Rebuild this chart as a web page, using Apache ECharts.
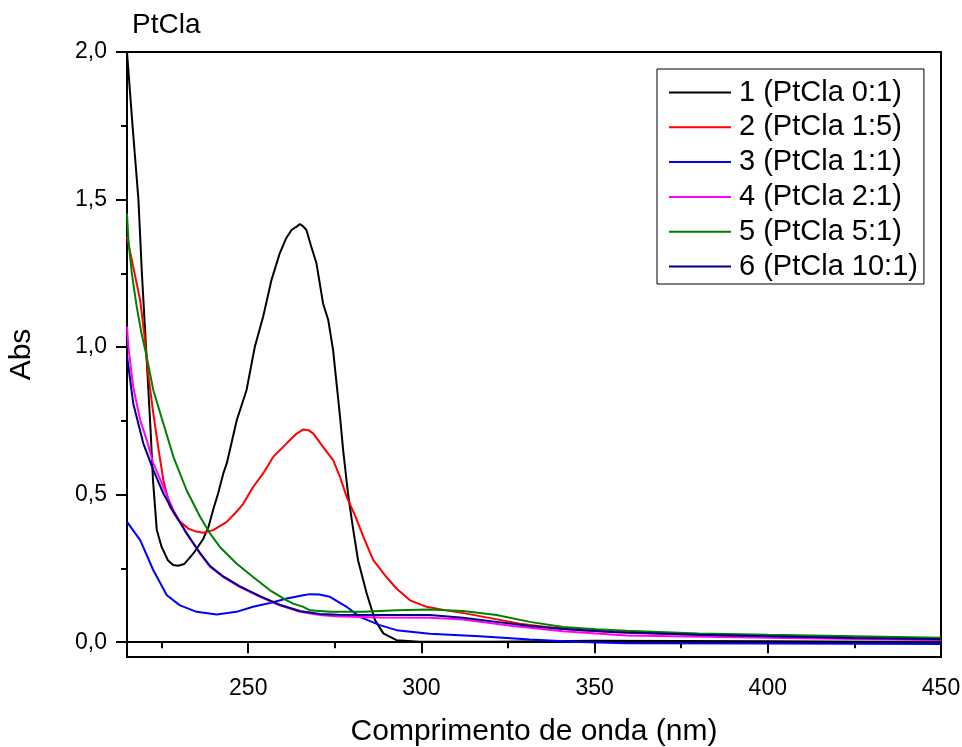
<!DOCTYPE html>
<html><head><meta charset="utf-8">
<script src="https://cdn.jsdelivr.net/npm/echarts@6/dist/echarts.min.js"></script>
<style>html,body{margin:0;padding:0;background:#fff}#c{width:962px;height:747px}</style>
</head><body><div id="c"></div>
<script>
// Wavelength (nm) and absorbance arrays per series
const wl1=[215,216.6,218.3,219.3,220.3,221.8,222.5,223.6,225.0,226.8,228.3,229.8,231.5,234.1,237.0,238.5,239.9,241.3,242.8,243.8,246.7,249.5,251.9,254.3,256.7,259.1,261.0,262.5,263.5,264.2,264.9,265.8,266.8,268.2,269.7,271.6,273.1,274.5,275.5,276.5,277.4,278.8,280.2,281.7,284.2,286.6,289.0,292.8,299.5,320,350,400,450];
const abs1=[2.0,1.75,1.5,1.25,1.04,0.72,0.55,0.38,0.323,0.278,0.262,0.259,0.265,0.30,0.35,0.39,0.45,0.504,0.572,0.606,0.753,0.854,1.001,1.103,1.227,1.318,1.37,1.397,1.405,1.41,1.417,1.41,1.397,1.34,1.284,1.148,1.092,0.99,0.877,0.764,0.651,0.504,0.39,0.278,0.165,0.075,0.03,0.007,0.002,0.002,0.005,0.003,0.001];

const wl2=[215,216.8,218.8,220.2,221.1,222.6,224.0,225.5,227.4,229.8,232.7,235,237.0,239.9,243.8,246.6,248.6,251.4,254.3,257.2,261.1,264.0,265.9,267.5,268.8,271.6,274.5,276.5,278.4,280.8,283.5,286.1,289.9,292.8,296.7,301.5,307.2,313.0,320.7,328.4,336.1,345.7,359.2,380,400,425,450];
const abs2=[1.374,1.272,1.159,1.024,0.911,0.775,0.662,0.549,0.459,0.414,0.385,0.375,0.371,0.38,0.408,0.442,0.47,0.526,0.572,0.628,0.674,0.707,0.721,0.718,0.707,0.662,0.617,0.56,0.493,0.43,0.35,0.278,0.221,0.182,0.142,0.12,0.108,0.097,0.08,0.063,0.052,0.041,0.032,0.025,0.02,0.014,0.01];

const wl3=[215,218.8,222.6,226.5,230.3,235.1,240.9,246.6,251.4,256.3,261.1,265.9,267.8,270.5,273.6,278.4,282.2,288.0,292.8,302.4,316.8,331.3,345.7,359.2,400,450];
const abs3=[0.408,0.346,0.244,0.159,0.125,0.103,0.094,0.103,0.12,0.133,0.148,0.159,0.163,0.162,0.154,0.12,0.086,0.058,0.041,0.029,0.02,0.009,0.001,-0.003,-0.004,-0.006];

const wl4=[215,215.4,216.8,218.8,220.7,222.6,225.5,228.4,232.2,236.1,239.0,242.8,247.6,253.4,259.1,264.9,270.7,275,288.0,302.4,312.0,326.5,340.9,359.2,400,450];
const abs4=[1.07,1.0,0.865,0.753,0.685,0.606,0.526,0.447,0.368,0.30,0.255,0.221,0.187,0.154,0.125,0.103,0.092,0.088,0.084,0.083,0.077,0.055,0.037,0.023,0.015,0.007];

const wl5=[215,215.4,216.4,217.8,219.2,220.7,222.6,225.5,228.4,232.2,236.1,239.0,241.8,246.6,251.4,256.3,261.1,263.0,265.9,267.8,273.6,283.2,292.8,302.4,312.0,321.7,331.3,340.9,350.5,359.2,380,400,425,450];
const abs5=[1.453,1.363,1.25,1.137,1.046,0.967,0.854,0.741,0.628,0.515,0.425,0.368,0.323,0.267,0.221,0.176,0.142,0.131,0.12,0.108,0.103,0.103,0.108,0.111,0.106,0.092,0.069,0.052,0.044,0.039,0.03,0.025,0.02,0.015];

const wl6=[215,216.8,219.7,222.6,225.5,228.4,232.2,236.1,239.0,242.8,247.6,253.4,259.1,264.9,270.7,276,288,302.4,312,321.7,331.3,340.9,355.3,380,400,425,450];
const abs6=[0.97,0.809,0.674,0.583,0.504,0.442,0.37,0.302,0.258,0.223,0.189,0.156,0.127,0.106,0.096,0.093,0.092,0.092,0.083,0.069,0.055,0.045,0.035,0.025,0.02,0.014,0.01];

const seriesNames=['1 (PtCla 0:1)','2 (PtCla 1:5)','3 (PtCla 1:1)','4 (PtCla 2:1)','5 (PtCla 5:1)','6 (PtCla 10:1)'];
const seriesColors=['#000000','#ff0000','#0000ff','#ff00ff','#008000','#000080'];
const xMajor=[250,300,350,400,450];
const xMinor=[225,275,325,375,425];
const yMajor=[0,0.5,1,1.5,2];
const yMinor=[0.25,0.75,1.25,1.75];

const WL=[wl1,wl2,wl3,wl4,wl5,wl6];
const AB=[abs1,abs2,abs3,abs4,abs5,abs6];
const FONT='Liberation Sans, Arial, sans-serif';

const chart=echarts.init(document.getElementById('c'),null,{renderer:'canvas'});
const gridRect={left:127,right:21,top:52,bottom:90,containLabel:false,outerBoundsMode:'none'};
chart.setOption({
  animation:false,
  backgroundColor:'#fff',
  title:{text:'PtCla',left:132,top:11,padding:0,textStyle:{fontSize:28,fontWeight:'normal',fontFamily:FONT,color:'#000'}},
  legend:{
    orient:'vertical',left:657,top:69,itemWidth:62,itemHeight:2,itemGap:5.8,
    icon:'rect',
    padding:[9,6,3,12],borderColor:'#000',borderWidth:1,
    textStyle:{fontSize:29,fontFamily:FONT,color:'#000',lineHeight:29,padding:[0,0,0,3]},
    data:seriesNames.map((n,i)=>({name:n,icon:'rect',itemStyle:{color:seriesColors[i]}}))
  },
  grid:[
    Object.assign({show:true,borderColor:'#000',borderWidth:2,backgroundColor:'rgba(0,0,0,0)'},gridRect),
    Object.assign({show:false},gridRect)
  ],
  xAxis:[
    {type:'value',gridIndex:0,min:215,max:450,position:'bottom',
     axisLine:{show:true,lineStyle:{color:'#000',width:2}},
     axisTick:{show:true,customValues:xMajor,length:11,lineStyle:{color:'#000',width:2}},
     axisLabel:{show:true,customValues:xMajor,fontSize:23,fontFamily:FONT,color:'#000',margin:20},
     splitLine:{show:false},
     name:'Comprimento de onda (nm)',nameLocation:'middle',nameGap:60,
     nameTextStyle:{fontSize:30,fontFamily:FONT,color:'#000'}},
    {type:'value',gridIndex:1,min:215,max:450,position:'bottom',
     axisLine:{show:false},
     axisTick:{show:true,customValues:xMinor,length:6,lineStyle:{color:'#000',width:2}},
     axisLabel:{show:false},splitLine:{show:false}}
  ],
  yAxis:[
    {type:'value',gridIndex:0,min:-0.05,max:2.0,position:'left',
     axisLine:{show:true,lineStyle:{color:'#000',width:2}},
     axisTick:{show:true,customValues:yMajor,length:11,lineStyle:{color:'#000',width:2}},
     axisLabel:{show:true,customValues:yMajor,fontSize:23,fontFamily:FONT,color:'#000',margin:20,
       formatter:v=>Number(v).toFixed(1).replace('.',',')},
     splitLine:{show:false},
     name:'Abs',nameLocation:'middle',nameGap:90,
     nameTextStyle:{fontSize:30,fontFamily:FONT,color:'#000'}},
    {type:'value',gridIndex:1,min:-0.05,max:2.0,position:'left',
     axisLine:{show:false},
     axisTick:{show:true,customValues:yMinor,length:6,lineStyle:{color:'#000',width:2}},
     axisLabel:{show:false},splitLine:{show:false}}
  ],
  series:seriesNames.map((n,i)=>({
    name:n,type:'line',xAxisIndex:0,yAxisIndex:0,
    symbol:'none',showSymbol:false,smooth:false,
    lineStyle:{color:seriesColors[i],width:2},
    itemStyle:{color:seriesColors[i]},
    data:WL[i].map((x,j)=>[x,AB[i][j]])
  }))
});
</script>
</body></html>
